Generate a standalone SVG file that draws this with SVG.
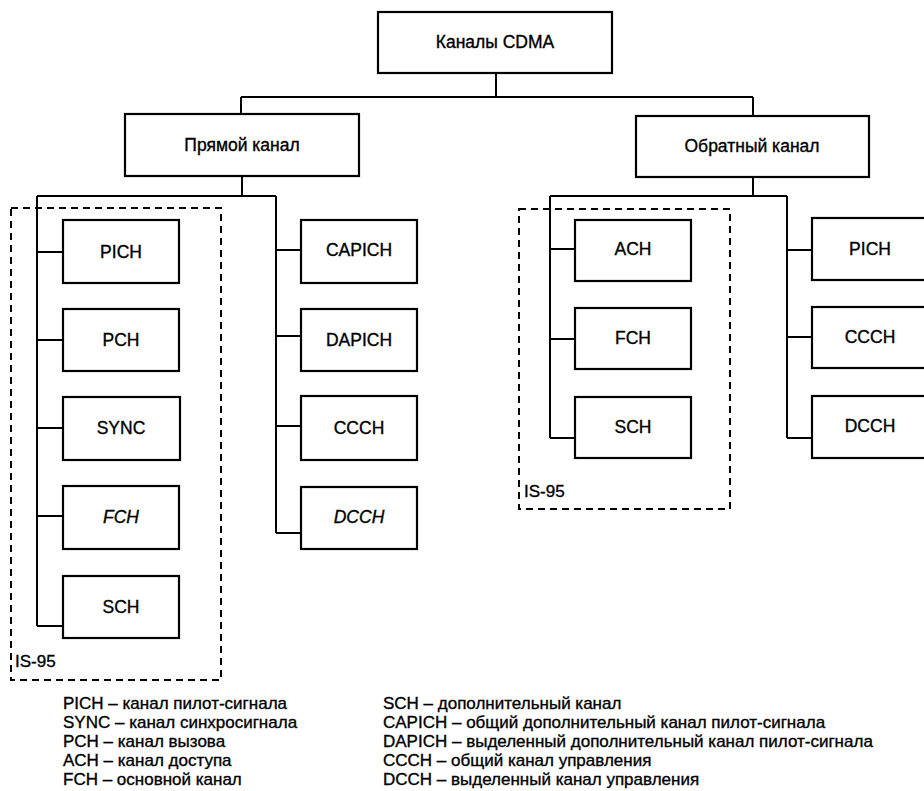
<svg xmlns="http://www.w3.org/2000/svg" width="924" height="791" viewBox="0 0 924 791">
<style>
.box{fill:#fff;stroke:#000;stroke-width:2.2}
.ln{fill:none;stroke:#000;stroke-width:2}
.dash{fill:none;stroke:#000;stroke-width:2;stroke-dasharray:7 5}
.t{font-family:"Liberation Sans",Arial,sans-serif;font-size:17.5px;fill:#000;stroke:#000;stroke-width:0.35;text-anchor:middle}
.i{font-style:italic}
.lg{font-family:"Liberation Sans",Arial,sans-serif;font-size:17px;fill:#000;stroke:#000;stroke-width:0.35}
.is{font-family:"Liberation Sans",Arial,sans-serif;font-size:17px;fill:#000;stroke:#000;stroke-width:0.35}
</style>
<rect width="924" height="791" fill="#fff"/>
<g id="connectors">
<path class="ln" d="M496 73V97M241 97H753M241 97V114M753 97V116"/>
<path class="ln" d="M242 176V196M37 196H276M37 196V626"/>
<path class="ln" d="M37 252H63M37 340H63M37 428H63M37 516H63M37 626H63"/>
<path class="ln" d="M276 196V533M276 250H301M276 336H301M276 426H301M276 533H301"/>
<path class="ln" d="M753 177V196M550 196H787M550 196V438M550 249H575M550 339H575M550 438H575"/>
<path class="ln" d="M787 196V438M787 250H812M787 337H812M787 438H812"/>
</g>
<g id="is95-left"><rect class="dash" x="11" y="208" width="210" height="472"/><text class="is" x="15" y="667">IS-95</text></g>
<g id="is95-right"><rect class="dash" x="519" y="209" width="211" height="300"/><text class="is" x="524" y="497">IS-95</text></g>
<g id="n-cdma"><rect class="box" x="378" y="12" width="234" height="61"/><text class="t" x="495" y="48">Каналы CDMA</text></g>
<g id="n-forward"><rect class="box" x="125" y="114" width="234" height="62"/><text class="t" x="242" y="151">Прямой канал</text></g>
<g id="n-reverse"><rect class="box" x="636" y="116" width="233" height="61"/><text class="t" x="752" y="152">Обратный канал</text></g>
<g id="n-f-pich"><rect class="box" x="63" y="220" width="116" height="63"/><text class="t" x="121" y="258">PICH</text></g>
<g id="n-f-pch"><rect class="box" x="63" y="309" width="116" height="62"/><text class="t" x="121" y="346">PCH</text></g>
<g id="n-f-sync"><rect class="box" x="63" y="397" width="117" height="63"/><text class="t" x="121" y="434">SYNC</text></g>
<g id="n-f-fch"><rect class="box" x="63" y="486" width="116" height="63"/><text class="t i" x="121" y="523">FCH</text></g>
<g id="n-f-sch"><rect class="box" x="63" y="576" width="116" height="62"/><text class="t" x="121" y="613">SCH</text></g>
<g id="n-capich"><rect class="box" x="301" y="220" width="116" height="63"/><text class="t" x="359" y="256">CAPICH</text></g>
<g id="n-dapich"><rect class="box" x="301" y="309" width="116" height="62"/><text class="t" x="359" y="346">DAPICH</text></g>
<g id="n-f-ccch"><rect class="box" x="301" y="396" width="116" height="64"/><text class="t" x="359" y="434">CCCH</text></g>
<g id="n-f-dcch"><rect class="box" x="301" y="487" width="116" height="62"/><text class="t i" x="359" y="523">DCCH</text></g>
<g id="n-r-ach"><rect class="box" x="575" y="220" width="116" height="61"/><text class="t" x="633" y="255">ACH</text></g>
<g id="n-r-fch"><rect class="box" x="575" y="308" width="116" height="61"/><text class="t" x="633" y="344">FCH</text></g>
<g id="n-r-sch"><rect class="box" x="575" y="397" width="116" height="61"/><text class="t" x="633" y="433">SCH</text></g>
<g id="n-r-pich"><rect class="box" x="812" y="218" width="116" height="62"/><text class="t" x="870" y="255">PICH</text></g>
<g id="n-r-ccch"><rect class="box" x="812" y="307" width="116" height="61"/><text class="t" x="870" y="343">CCCH</text></g>
<g id="n-r-dcch"><rect class="box" x="812" y="396" width="116" height="62"/><text class="t" x="870" y="432">DCCH</text></g>
<g id="legend">
<text class="lg" x="63" y="709">PICH – канал пилот-сигнала</text>
<text class="lg" x="63" y="728">SYNC – канал синхросигнала</text>
<text class="lg" x="63" y="747">PCH – канал вызова</text>
<text class="lg" x="63" y="766">ACH – канал доступа</text>
<text class="lg" x="63" y="785">FCH – основной канал</text>
<text class="lg" x="383" y="709">SCH – дополнительный канал</text>
<text class="lg" x="383" y="728">CAPICH – общий дополнительный канал пилот-сигнала</text>
<text class="lg" x="383" y="747">DAPICH – выделенный дополнительный канал пилот-сигнала</text>
<text class="lg" x="383" y="766">CCCH – общий канал управления</text>
<text class="lg" x="383" y="785">DCCH – выделенный канал управления</text>
</g>
</svg>
